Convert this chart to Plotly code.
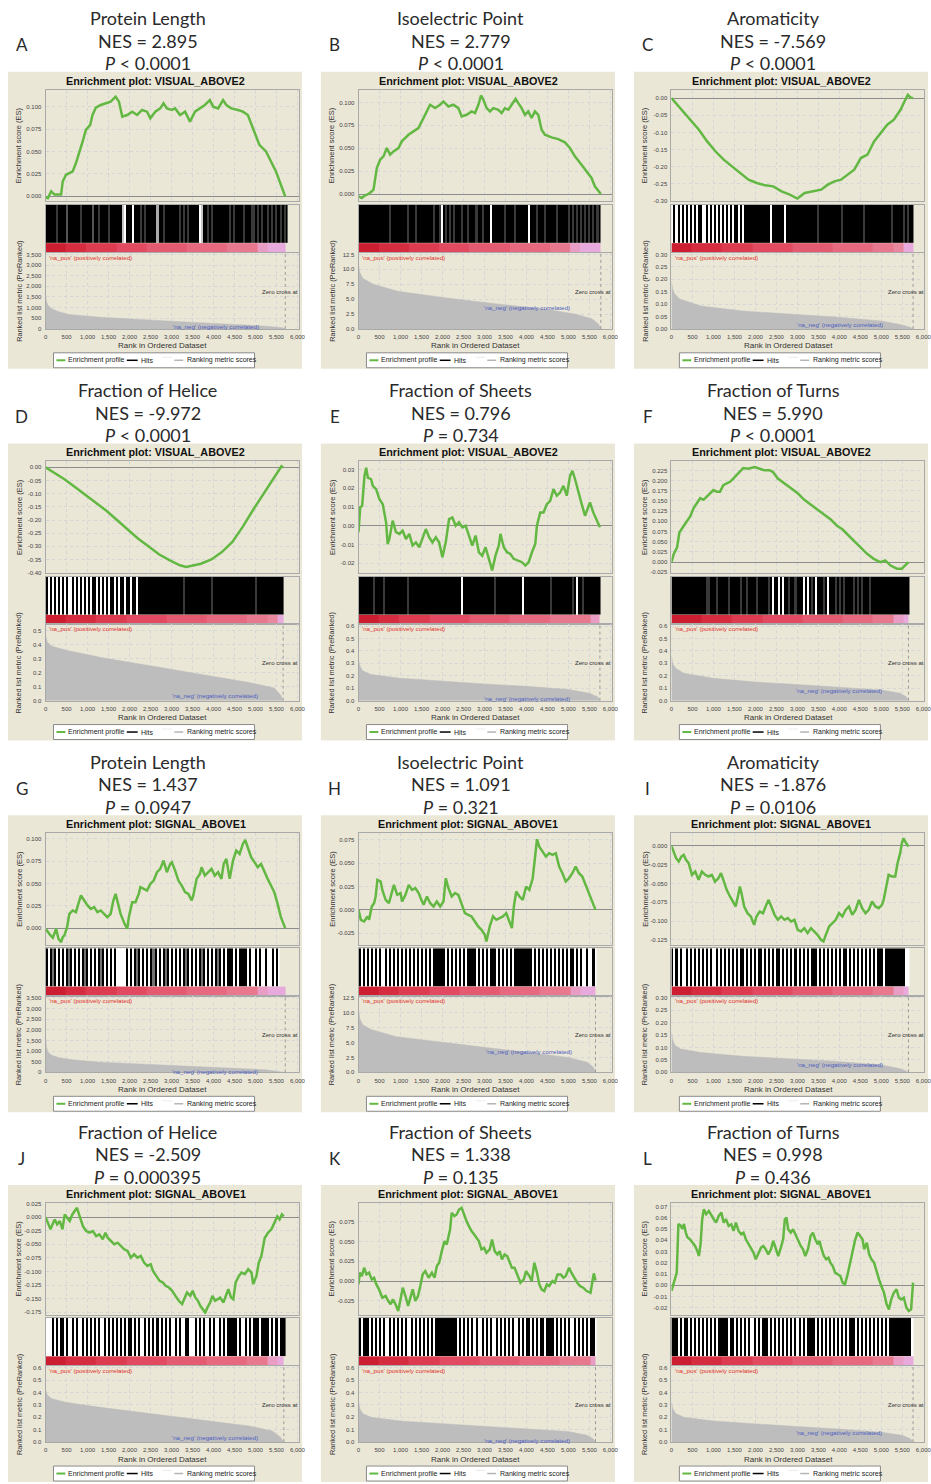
import numpy as np
import plotly.graph_objects as go

W, H = 931, 1484

# ---------------- DATA ----------------
panel_ids = list("ABCDEFGHIJKL")
feature_names = ["Protein Length", "Isoelectric Point", "Aromaticity",
                 "Fraction of Helice", "Fraction of Sheets", "Fraction of Turns"] * 2
nes_values = [2.895, 2.779, -7.569, -9.972, 0.796, 5.990,
              1.437, 1.091, -1.876, -2.509, 1.338, 0.998]
p_signs = ["<", "<", "<", "<", "=", "<", "=", "=", "=", "=", "=", "="]
p_values = ["0.0001", "0.0001", "0.0001", "0.0001", "0.734", "0.0001",
            "0.0947", "0.321", "0.0106", "0.000395", "0.135", "0.436"]
gene_sets = ["VISUAL_ABOVE2"] * 6 + ["SIGNAL_ABOVE1"] * 6
dataset_size = [5709, 5773, 5756, 5660, 5751, 5646, 5709, 5646, 5646, 5677, 5646, 5756]

# running enrichment score (rank, ES)
es_A = [(0,-0.001),(55,-0.002),(134,0.0056),(213,0.0019),(370,0.0019),(409,0.0167),(488,0.0241),(646,0.0279),(724,0.0372),(803,0.0483),(882,0.0613),(961,0.0743),(1063,0.0799),(1118,0.091),(1197,0.0992),(1315,0.1022),(1433,0.104),(1551,0.1059),(1669,0.1115),(1748,0.1059),(1827,0.0892),(1945,0.091),(2063,0.0947),(2181,0.091),(2299,0.0966),(2417,0.0947),(2496,0.0873),(2614,0.0947),(2732,0.0984),(2811,0.104),(2890,0.0984),(3008,0.0966),(3087,0.0984),(3205,0.091),(3323,0.0947),(3441,0.0836),(3559,0.0947),(3677,0.0984),(3795,0.1022),(3913,0.1077),(3992,0.1003),(4110,0.0984),(4228,0.1077),(4307,0.1022),(4425,0.0984),(4583,0.0966),(4701,0.0947),(4819,0.091),(4937,0.0762),(5094,0.0576),(5252,0.0502),(5370,0.039),(5488,0.0279),(5606,0.013),(5709,0.0)]
es_B = [(0,-0.0025),(79,-0.0044),(159,-0.0015),(238,0.0),(317,0.0029),(357,0.0047),(436,0.0284),(515,0.0375),(595,0.0411),(674,0.0502),(753,0.0429),(833,0.0465),(952,0.0502),(1031,0.0575),(1110,0.0611),(1190,0.0647),(1308,0.0684),(1427,0.072),(1507,0.0793),(1586,0.0865),(1705,0.0975),(1824,0.0938),(1943,0.0975),(2022,0.1011),(2141,0.0956),(2260,0.0975),(2379,0.0938),(2458,0.0847),(2577,0.0865),(2696,0.0902),(2776,0.0884),(2855,0.0975),(2918,0.1076),(2974,0.1029),(3053,0.0938),(3132,0.0902),(3212,0.0938),(3331,0.092),(3410,0.0884),(3489,0.0938),(3569,0.092),(3648,0.0975),(3743,0.104),(3806,0.0993),(3886,0.0938),(3965,0.0865),(4044,0.0902),(4124,0.083),(4203,0.0902),(4282,0.0865),(4362,0.0702),(4441,0.0647),(4599,0.0618),(4758,0.06),(4917,0.0564),(5036,0.0502),(5155,0.0411),(5313,0.032),(5432,0.0247),(5551,0.0175),(5630,0.0084),(5694,0.0047),(5773,0.0)]
es_C = [(0,0.0),(102,-0.0146),(260,-0.034),(457,-0.063),(654,-0.0922),(850,-0.1262),(1047,-0.155),(1244,-0.1796),(1441,-0.199),(1638,-0.2184),(1835,-0.2379),(2031,-0.2476),(2228,-0.2544),(2425,-0.2573),(2622,-0.2718),(2819,-0.2816),(3000,-0.293),(3173,-0.2767),(3370,-0.2718),(3567,-0.267),(3724,-0.2524),(3882,-0.2427),(4039,-0.2379),(4197,-0.2233),(4354,-0.2087),(4512,-0.1748),(4669,-0.165),(4827,-0.1262),(4984,-0.1019),(5142,-0.0777),(5299,-0.063),(5457,-0.034),(5551,-0.0097),(5630,0.0097),(5693,0.002),(5756,0.0)]
es_D = [(0,0.0),(100,-0.01),(250,-0.025),(450,-0.045),(700,-0.075),(950,-0.105),(1200,-0.135),(1450,-0.165),(1700,-0.2),(1950,-0.235),(2200,-0.27),(2450,-0.3),(2700,-0.33),(2950,-0.352),(3200,-0.372),(3350,-0.378),(3500,-0.374),(3700,-0.366),(3950,-0.35),(4200,-0.322),(4450,-0.283),(4700,-0.225),(4950,-0.16),(5200,-0.097),(5400,-0.05),(5550,-0.014),(5620,0.004),(5660,0.0)]
es_E = [(0,-0.0035),(40,0.0098),(87,0.0106),(142,0.0266),(182,0.031),(221,0.0257),(300,0.0248),(340,0.0213),(419,0.0195),(498,0.0142),(577,0.0115),(656,0.0018),(695,-0.0098),(735,-0.0071),(814,0.0027),(893,-0.0035),(972,-0.0044),(1051,-0.0027),(1130,-0.0071),(1209,-0.0044),(1288,-0.0106),(1367,-0.0089),(1446,-0.0115),(1525,-0.0071),(1604,-0.0018),(1683,-0.0062),(1762,-0.0089),(1841,-0.0062),(1920,-0.0089),(1999,-0.0168),(2078,-0.0089),(2157,0.0035),(2236,0.0044),(2315,0.0),(2394,0.0018),(2473,-0.0009),(2552,0.0),(2631,-0.0053),(2710,-0.0106),(2789,-0.0053),(2868,-0.0142),(2947,-0.016),(3026,-0.0115),(3105,-0.0177),(3184,-0.0239),(3263,-0.016),(3342,-0.0106),(3381,-0.0044),(3460,-0.0115),(3539,-0.0142),(3618,-0.0151),(3697,-0.0177),(3816,-0.0186),(3895,-0.0195),(3974,-0.0213),(4053,-0.0195),(4132,-0.0142),(4211,-0.0098),(4250,0.0),(4329,0.0071),(4408,0.0071),(4487,0.0115),(4566,0.0133),(4645,0.0195),(4724,0.016),(4803,0.0177),(4882,0.0213),(4961,0.016),(5040,0.0266),(5096,0.0293),(5159,0.0248),(5238,0.0177),(5317,0.0115),(5396,0.0053),(5514,0.0124),(5593,0.0071),(5672,0.0035),(5751,-0.0009)]
es_F = [(0,0.0),(55,0.0201),(134,0.0362),(189,0.0724),(291,0.0884),(370,0.1005),(449,0.1126),(528,0.1326),(606,0.1447),(685,0.1568),(764,0.1528),(843,0.1608),(921,0.1688),(1000,0.1769),(1079,0.1729),(1157,0.1729),(1236,0.1889),(1315,0.193),(1394,0.197),(1472,0.205),(1551,0.2131),(1630,0.2211),(1709,0.2307),(1827,0.2291),(1984,0.2332),(2102,0.2291),(2220,0.2251),(2339,0.2251),(2417,0.2211),(2535,0.205),(2693,0.193),(2850,0.1809),(3008,0.1688),(3165,0.1528),(3323,0.1407),(3480,0.1286),(3638,0.1166),(3795,0.1045),(3953,0.0884),(4071,0.0804),(4189,0.0683),(4346,0.0523),(4504,0.0362),(4661,0.0201),(4819,0.008),(4976,0.0),(5094,0.004),(5213,-0.008),(5370,-0.0161),(5488,-0.0161),(5567,-0.008),(5646,0.0)]
es_G = [(0,-0.0007),(55,-0.0045),(118,-0.0082),(173,-0.0108),(213,-0.0045),(252,-0.0007),(307,-0.0119),(370,-0.0157),(409,-0.0101),(449,-0.0082),(512,0.0011),(567,0.016),(646,0.0198),(724,0.0179),(780,0.0272),(843,0.0366),(921,0.031),(1000,0.0254),(1079,0.0216),(1157,0.0235),(1236,0.0179),(1315,0.0198),(1394,0.016),(1472,0.0123),(1551,0.016),(1614,0.0309),(1669,0.0384),(1724,0.0291),(1787,0.016),(1882,0.0048),(1945,-0.0007),(1984,0.0123),(2063,0.0291),(2142,0.0291),(2220,0.0384),(2260,0.0459),(2339,0.044),(2417,0.0421),(2496,0.0496),(2575,0.0533),(2654,0.0627),(2732,0.0664),(2811,0.0757),(2890,0.0627),(2969,0.072),(3008,0.0739),(3087,0.0645),(3165,0.0533),(3244,0.0477),(3323,0.0403),(3402,0.0384),(3480,0.031),(3520,0.0366),(3598,0.0552),(3677,0.0608),(3717,0.0683),(3795,0.0589),(3874,0.0627),(3953,0.0664),(4032,0.0589),(4110,0.0627),(4189,0.0552),(4244,0.072),(4307,0.0776),(4386,0.0552),(4465,0.0757),(4543,0.0869),(4622,0.0832),(4701,0.0944),(4756,0.0988),(4819,0.0906),(4898,0.0795),(4976,0.0739),(5055,0.0683),(5134,0.072),(5213,0.0627),(5291,0.0552),(5370,0.0477),(5449,0.0403),(5528,0.0272),(5606,0.0123),(5709,0.0)]
es_H = [(0,0.0),(55,-0.0107),(134,-0.0125),(213,-0.0071),(252,-0.0107),(315,0.0036),(370,0.0071),(409,0.0143),(449,0.0321),(528,0.0303),(567,0.0214),(646,0.0107),(724,0.0071),(803,0.0214),(843,0.0268),(921,0.0161),(1000,0.0179),(1039,0.0089),(1118,0.0161),(1197,0.0268),(1276,0.0214),(1354,0.0232),(1433,0.0179),(1496,0.0107),(1551,0.0054),(1630,0.0143),(1709,0.0071),(1787,0.0036),(1866,0.0089),(1945,0.0036),(2024,0.0089),(2079,0.0339),(2142,0.0232),(2220,0.0143),(2299,0.0179),(2378,0.0161),(2457,0.0071),(2535,-0.0036),(2614,-0.0054),(2693,-0.0071),(2772,-0.0125),(2850,-0.0178),(2929,-0.0214),(3008,-0.0268),(3047,-0.0339),(3087,-0.025),(3126,-0.0178),(3205,-0.0071),(3283,-0.0107),(3362,-0.0089),(3441,-0.0071),(3520,-0.0036),(3598,-0.0125),(3654,-0.0196),(3701,0.0036),(3756,0.0196),(3835,0.0143),(3913,0.0107),(3992,0.025),(4071,0.0214),(4150,0.0339),(4205,0.0571),(4252,0.0757),(4307,0.0678),(4386,0.0625),(4465,0.0571),(4543,0.0607),(4622,0.0589),(4701,0.0607),(4780,0.0464),(4858,0.0393),(4937,0.0303),(5016,0.0339),(5094,0.0393),(5173,0.0464),(5252,0.0393),(5331,0.0357),(5409,0.0268),(5488,0.0179),(5567,0.0071),(5646,0.0)]
es_I = [(0,0.0),(55,-0.0097),(110,-0.0164),(173,-0.0208),(236,-0.0142),(291,-0.012),(346,-0.0186),(409,-0.023),(488,-0.0385),(567,-0.0341),(646,-0.0452),(724,-0.0341),(803,-0.0385),(882,-0.0407),(961,-0.0385),(1039,-0.0474),(1118,-0.043),(1181,-0.0363),(1236,-0.0452),(1315,-0.0585),(1394,-0.0673),(1472,-0.074),(1528,-0.0806),(1591,-0.0651),(1630,-0.054),(1669,-0.0629),(1732,-0.0806),(1811,-0.0895),(1890,-0.0939),(1969,-0.105),(2024,-0.0939),(2102,-0.0873),(2181,-0.0895),(2260,-0.0784),(2315,-0.0718),(2378,-0.0806),(2457,-0.0917),(2535,-0.0983),(2614,-0.0939),(2693,-0.0983),(2772,-0.0961),(2850,-0.1006),(2929,-0.0983),(3008,-0.1116),(3087,-0.1138),(3165,-0.1094),(3244,-0.116),(3323,-0.1094),(3402,-0.1138),(3480,-0.1183),(3559,-0.1249),(3622,-0.1271),(3677,-0.1183),(3756,-0.1072),(3835,-0.1028),(3913,-0.0983),(3992,-0.0895),(4071,-0.0939),(4150,-0.0851),(4228,-0.0806),(4307,-0.0917),(4386,-0.0851),(4465,-0.0718),(4543,-0.0829),(4622,-0.0895),(4701,-0.0851),(4780,-0.074),(4858,-0.0806),(4937,-0.0829),(5016,-0.0784),(5055,-0.0718),(5118,-0.0518),(5173,-0.0385),(5252,-0.0407),(5331,-0.0407),(5386,-0.023),(5449,-0.0097),(5488,0.0035),(5528,0.0102),(5591,0.0035),(5646,-0.0009)]
es_J = [(0,0.0),(63,-0.0134),(118,-0.0226),(181,-0.0104),(220,-0.0043),(276,-0.0134),(339,-0.0073),(402,-0.0226),(457,0.0049),(512,-0.0012),(575,-0.0073),(638,0.0049),(693,0.011),(748,0.0171),(811,0.0018),(890,-0.0165),(969,-0.0256),(1047,-0.0287),(1126,-0.0256),(1205,-0.0348),(1283,-0.0317),(1362,-0.0409),(1425,-0.0287),(1480,-0.0378),(1559,-0.0439),(1638,-0.05),(1717,-0.047),(1795,-0.0531),(1874,-0.0592),(1953,-0.0622),(2031,-0.0744),(2110,-0.0683),(2189,-0.0744),(2268,-0.0714),(2346,-0.0836),(2425,-0.0897),(2504,-0.0866),(2559,-0.0988),(2638,-0.108),(2717,-0.1171),(2795,-0.1202),(2858,-0.1263),(2937,-0.1293),(3016,-0.1354),(3094,-0.1446),(3173,-0.1537),(3252,-0.1598),(3315,-0.1476),(3370,-0.1385),(3449,-0.1446),(3504,-0.1354),(3567,-0.1476),(3630,-0.1537),(3685,-0.1628),(3740,-0.169),(3803,-0.1751),(3858,-0.1659),(3921,-0.1568),(3976,-0.1446),(4039,-0.1537),(4102,-0.1507),(4157,-0.1476),(4236,-0.1568),(4315,-0.1415),(4354,-0.1324),(4417,-0.1476),(4472,-0.1507),(4528,-0.1202),(4606,-0.108),(4669,-0.1019),(4748,-0.1049),(4827,-0.0958),(4906,-0.1019),(4945,-0.1232),(5024,-0.108),(5079,-0.0836),(5142,-0.0714),(5220,-0.0384),(5299,-0.0287),(5378,-0.0226),(5457,-0.0104),(5520,0.0012),(5575,-0.0043),(5630,0.0049),(5677,0.0012)]
es_K = [(0,-0.0042),(31,0.0105),(79,0.0063),(134,0.0168),(189,0.0084),(252,0.0105),(315,0.0021),(370,0.0042),(425,-0.0042),(488,-0.0105),(567,-0.021),(646,-0.0189),(709,-0.0252),(764,-0.0294),(819,-0.0231),(882,-0.0294),(945,-0.0378),(1000,-0.0252),(1055,-0.0084),(1118,-0.0189),(1181,-0.0315),(1236,-0.021),(1291,-0.0105),(1354,-0.0252),(1417,-0.0189),(1472,-0.0063),(1528,0.0084),(1591,0.0126),(1669,0.0042),(1748,0.0105),(1811,0.0042),(1866,0.0189),(1921,0.0231),(1984,0.0378),(2047,0.0504),(2102,0.0462),(2181,0.0651),(2220,0.0861),(2283,0.0819),(2339,0.084),(2394,0.0903),(2457,0.0924),(2520,0.0819),(2575,0.0756),(2630,0.0693),(2693,0.063),(2756,0.0588),(2811,0.0546),(2866,0.0504),(2929,0.0399),(2992,0.042),(3047,0.0357),(3126,0.0399),(3181,0.0525),(3244,0.0378),(3307,0.0336),(3362,0.0378),(3417,0.0273),(3480,0.0336),(3543,0.0315),(3598,0.0231),(3654,0.0168),(3717,0.0168),(3780,0.0084),(3858,-0.0021),(3937,0.0021),(3992,0.0126),(4071,0.0063),(4126,0.0),(4189,0.0231),(4252,0.0105),(4307,-0.0042),(4362,-0.0105),(4425,-0.0126),(4488,-0.0042),(4543,-0.0063),(4622,0.0),(4677,-0.0021),(4740,0.0084),(4819,0.0084),(4882,0.0042),(4937,0.0063),(5016,0.0168),(5071,0.0105),(5134,0.0042),(5213,-0.0021),(5276,-0.0063),(5354,-0.0084),(5433,-0.0126),(5528,-0.0147),(5567,-0.0021),(5606,0.0097),(5646,0.0008)]
es_L = [(0,-0.005),(39,-0.0006),(87,0.0053),(126,0.0113),(165,0.0546),(220,0.0531),(260,0.0502),(299,0.0546),(339,0.0472),(378,0.0428),(433,0.0413),(496,0.0383),(559,0.0353),(614,0.0309),(654,0.0261),(693,0.0365),(732,0.0588),(772,0.0677),(827,0.0633),(890,0.0662),(953,0.0618),(1008,0.0588),(1063,0.0558),(1126,0.0618),(1189,0.0647),(1244,0.0558),(1299,0.0588),(1362,0.0529),(1425,0.0543),(1480,0.0484),(1535,0.0558),(1598,0.0484),(1661,0.0454),(1717,0.0469),(1772,0.041),(1835,0.0365),(1898,0.0321),(1953,0.0291),(2008,0.0232),(2071,0.0291),(2134,0.0335),(2189,0.035),(2244,0.0321),(2307,0.0276),(2370,0.0321),(2425,0.0395),(2480,0.0321),(2543,0.0261),(2606,0.0335),(2661,0.041),(2701,0.0588),(2740,0.0603),(2780,0.0499),(2843,0.0469),(2898,0.0499),(2953,0.0454),(3016,0.0395),(3079,0.035),(3134,0.0321),(3189,0.0261),(3252,0.0321),(3315,0.0439),(3370,0.0469),(3425,0.041),(3488,0.0365),(3528,0.0395),(3567,0.0335),(3630,0.0261),(3685,0.0232),(3740,0.0246),(3787,0.0202),(3843,0.0172),(3898,0.0113),(3961,0.0098),(4024,0.0083),(4079,0.0024),(4134,0.0009),(4197,0.0098),(4260,0.0202),(4315,0.0305),(4370,0.0395),(4433,0.0469),(4496,0.0439),(4551,0.041),(4591,0.0321),(4654,0.038),(4709,0.0276),(4764,0.0232),(4827,0.0202),(4890,0.0113),(4945,0.0053),(5000,-0.0006),(5063,-0.0065),(5126,-0.0169),(5181,-0.0214),(5236,-0.0125),(5299,-0.0065),(5362,-0.0036),(5417,-0.011),(5472,-0.0125),(5535,-0.011),(5598,-0.0199),(5654,-0.0229),(5709,-0.0214),(5756,0.0024)]

# hit density per 48-rank bin (0 = no hit ... 9 = solid black)
hits_A = "9999979" "999699" "999979" "999969" "979999" "799999" "920999" "099979" "799999" "399799" "999997" "979799" "999029" "979799" "999999" "797999" "979997" "797979" "979797" "97979"
hits_B = "9999999999" "9999979999" "9999799979" "9999999799" "7097979799" "9799799979" "9799909999" "9979999799" "9999099979" "9979999979" "9999797979" "7979797979"
hits_C = "0909090909" "0909900909" "0909090909" "0990909999" "9999999990" "9999990999" "9999999999" "9979999999" "9999799999" "9999979999" "9999999997" "9999979799"
hits_D = "9090909090" "9009090909" "0909909090" "9099090990" "9909909999" "9999999999" "9999999979" "9999999999" "9979999999" "9999999999" "9999799999" "99999999"
hits_E = "9999999799" "9979999999" "9999799999" "9999999999" "9999999999" "9099999999" "9999999799" "9999999999" "9099999999" "9999979999" "9999997909" "9799999999"
hits_F = "9999999999999999" "97799979999979" "9999799799" "9979999979" "0990909979" "9799909097" "9099979099" "9797979999" "7979799979" "9999999999" "99999999"
hits_G = "9095909090" "9590909095" "9090909590" "909090" "0000" "9090959090" "9095909095" "9090909095" "9090909590" "9090959090" "9990909999" "0900909009" "009090"
hits_H = "90909090909" "0090" "9090909090909090909090999" "99909" "0909090909" "99909" "0909099909" "0909090999" "9999990909" "0909090909" "0909099090" "90090090"
hits_I = "9090900909" "0909090909" "0090909090" "9090990909" "0909909090" "9099090909" "0909090909" "9909090909" "0909099090" "9090909090" "9099909999" "99999900"
hits_J = "000" "9090990" "9009090090" "9090909009" "0909090909" "0990909009" "0909090909" "0900909009" "9000909090" "0909009090" "9999909009" "0909990999" "909090999"
hits_K = "9099909090" "9090090909" "0909009090" "9090909099" "9999999990" "9090909090" "0909090090" "9090909009" "0909909090" "9909999090" "9090900909" "09090990"
hits_L = "9990909909" "0909090909" "0909999909" "9090909090" "0909099909" "0909090909" "0909090999" "9090909090" "9090909099" "9090909090" "9090909099" "9999999990"

# colour-bar level per 240-rank segment (9 = deep red ... 0 = light pink)
cbar_A = "998877766655554444333100"
cbar_B = "998887776665555444433100"
cbar_C = "998887776666555544443320"
cbar_D = "998887776666555544443320"
cbar_E = "998877766665555444433331"
cbar_F = "999888777666655554443310"
cbar_G = "998877766655554444333100"
cbar_H = "998877766655554444333100"
cbar_I = "998887776666555544443310"
cbar_J = "998887776666555544443310"
cbar_K = "998887776666555544443331"
cbar_L = "998887776666555544443310"

# ranked list metric (rank, value)
metric_A = [(0,1600),(20,1300),(60,1100),(150,950),(300,820),(550,680),(1300,550),(2100,450),(2900,370),(3700,290),(4500,210),(5250,130),(5650,50),(5709,0)]
metric_B = [(0,10.8),(30,9.5),(100,8.5),(350,7.5),(940,6.3),(2100,5.2),(3300,4.2),(4470,3.3),(5150,2.5),(5560,1.7),(5720,0.8),(5773,0)]
metric_C = [(0,0.19),(30,0.16),(80,0.14),(200,0.12),(700,0.092),(1700,0.072),(2800,0.06),(3900,0.048),(5000,0.032),(5500,0.016),(5700,0.006),(5756,0)]
metric_D = [(0,0.47),(40,0.42),(150,0.39),(500,0.36),(1300,0.31),(2500,0.25),(3700,0.19),(4850,0.13),(5450,0.09),(5600,0.04),(5660,0)]
metric_E = [(0,0.34),(30,0.28),(100,0.24),(300,0.21),(1000,0.18),(2000,0.155),(3000,0.135),(4000,0.115),(5000,0.09),(5500,0.06),(5700,0.03),(5751,0)]
metric_F = [(0,0.36),(30,0.30),(100,0.26),(300,0.22),(1000,0.18),(2000,0.15),(3000,0.13),(4000,0.11),(5000,0.085),(5450,0.06),(5600,0.03),(5646,0)]
metric_G = [(0,1650),(20,1200),(60,950),(150,800),(300,700),(600,600),(1300,480),(2100,400),(2900,330),(3700,260),(4500,190),(5250,120),(5650,40),(5709,0)]
metric_H = [(0,10.7),(30,9.0),(100,8.0),(300,7.2),(900,6.0),(2000,5.0),(3000,4.2),(4000,3.4),(5000,2.5),(5450,1.7),(5600,0.8),(5646,0)]
metric_I = [(0,0.16),(30,0.13),(80,0.11),(200,0.095),(700,0.08),(1700,0.065),(2800,0.055),(3900,0.045),(5000,0.03),(5450,0.015),(5600,0.005),(5646,0)]
metric_J = [(0,0.42),(40,0.38),(150,0.35),(500,0.32),(1300,0.28),(2500,0.23),(3700,0.18),(4850,0.13),(5400,0.09),(5600,0.04),(5677,0)]
metric_K = [(0,0.33),(30,0.27),(100,0.23),(300,0.20),(1000,0.17),(2000,0.15),(3000,0.13),(4000,0.11),(5000,0.085),(5450,0.055),(5600,0.025),(5646,0)]
metric_L = [(0,0.32),(30,0.27),(100,0.23),(300,0.20),(1000,0.17),(2000,0.145),(3000,0.125),(4000,0.105),(5000,0.08),(5500,0.055),(5700,0.025),(5756,0)]

es_data = [es_A, es_B, es_C, es_D, es_E, es_F, es_G, es_H, es_I, es_J, es_K, es_L]
hits_data = [hits_A, hits_B, hits_C, hits_D, hits_E, hits_F, hits_G, hits_H, hits_I, hits_J, hits_K, hits_L]
cbar_data = [cbar_A, cbar_B, cbar_C, cbar_D, cbar_E, cbar_F, cbar_G, cbar_H, cbar_I, cbar_J, cbar_K, cbar_L]
metric_data = [metric_A, metric_B, metric_C, metric_D, metric_E, metric_F, metric_G, metric_H, metric_I, metric_J, metric_K, metric_L]

# ---------------- AXIS SETTINGS ----------------
es_range = [(-0.0056, 0.1193), (-0.008, 0.1139), (-0.301, 0.0245), (-0.4015, 0.0224),
            (-0.0253, 0.0343), (-0.027, 0.247), (-0.0187, 0.1064), (-0.0375, 0.0822),
            (-0.1316, 0.0169), (-0.179, 0.026), (-0.0423, 0.0986), (-0.026, 0.0733)]
es_tick = [(0, 0.1, 0.025, ".3f"), (0, 0.1, 0.025, ".3f"), (-0.30, 0, 0.05, ".2f"), (-0.40, 0, 0.05, ".2f"),
           (-0.02, 0.03, 0.01, ".2f"), (-0.025, 0.225, 0.025, ".3f"), (0, 0.1, 0.025, ".3f"), (-0.025, 0.075, 0.025, ".3f"),
           (-0.125, 0, 0.025, ".3f"), (-0.175, 0.025, 0.025, ".3f"), (-0.025, 0.075, 0.025, ".3f"), (-0.02, 0.07, 0.01, ".2f")]
met_tick = [(3500, 500, ",.0f"), (12.5, 2.5, ".1f"), (0.30, 0.05, ".2f"), (0.5, 0.1, ".1f"),
            (0.6, 0.1, ".1f"), (0.6, 0.1, ".1f"), (3500, 500, ",.0f"), (12.5, 2.5, ".1f"),
            (0.30, 0.05, ".2f"), (0.6, 0.1, ".1f"), (0.6, 0.1, ".1f"), (0.6, 0.1, ".1f")]
met_top = [3585, 12.8, 0.307, 0.546, 0.614, 0.614, 3585, 12.8, 0.307, 0.614, 0.614, 0.614]
neg_pos = [(165, 256), (163, 237), (163, 254), (164, 253), (163, 256), (162, 248),
           (164, 257), (165, 237), (163, 250), (164, 253), (163, 256), (162, 248)]

# ---------------- GEOMETRY (pixels) ----------------
COL_X = [6, 322, 638]
ROW_Y = [70, 443, 816, 1187]
BOX_W, BOX_H = 297, 298
PL, PR = 38, 294
ES_T, ES_B = 18, 130
HT_T, HT_B = 133.5, 181
MT_T, MT_B = 181.5, 258
XMAX = 6040
HIT_BIN, CB_BIN = 48, 240

GREEN = "#62b842"
GRID = "#d6d6d6"
SMALL = "Liberation Sans, Arial, sans-serif"
BIG = "Lato, Open Sans, sans-serif"
TXT = "#3a3a3a"

HIT_SCALE = [[0, "#ffffff"], [1, "#000000"]]
CB_SCALE = [[0, "#e8aadc"], [0.11, "#e99cc4"], [0.22, "#e9879f"], [0.33, "#e8788e"], [0.44, "#e66a80"],
            [0.56, "#e45a70"], [0.67, "#e14a60"], [0.78, "#dc3b50"], [0.89, "#d52c40"], [1, "#cc1e30"]]


def fx(px):
    return px / W


def fy(py):
    return 1 - py / H


def ticks(lo, hi, step, f):
    n = int(round((hi - lo) / step))
    vals = [round(lo + k * step, 6) + 0.0 for k in range(n + 1)]
    return vals, [format(v, f) for v in vals]


fig = go.Figure()
layout = dict(width=W, height=H, margin=dict(l=0, r=0, t=0, b=0),
              paper_bgcolor="white", plot_bgcolor="white", showlegend=False)
shapes, annos = [], []
axn = [0]


def new_axes(xdom, ydom, xr, yr, xcfg, ycfg):
    axn[0] += 1
    n = axn[0]
    xn = "x" if n == 1 else f"x{n}"
    yn = "y" if n == 1 else f"y{n}"
    layout["xaxis" if n == 1 else f"xaxis{n}"] = dict(domain=xdom, range=xr, anchor=yn, **xcfg)
    layout["yaxis" if n == 1 else f"yaxis{n}"] = dict(domain=ydom, range=yr, anchor=xn, **ycfg)
    return xn, yn


def base():
    return dict(showline=True, mirror=True, linecolor="#a9a9a9", linewidth=1, zeroline=False,
                fixedrange=True, showgrid=False, ticks="",
                tickfont=dict(family=SMALL, size=6, color="#444"))


def text(x, y, s, size, family=SMALL, color=TXT, xanchor="center", angle=0, bold=False):
    annos.append(dict(x=fx(x), y=fy(y), xref="paper", yref="paper", text=(f"<b>{s}</b>" if bold else s),
                      showarrow=False, xanchor=xanchor, yanchor="middle", textangle=angle,
                      font=dict(family=family, size=size, color=color)))


for i, pid in enumerate(panel_ids):
    col, row = i % 3, i // 3
    ox, oy = COL_X[col], ROW_Y[row]
    N = dataset_size[i]

    # beige frame
    shapes.append(dict(type="rect", xref="paper", yref="paper", x0=fx(ox), x1=fx(ox + BOX_W),
                       y0=fy(oy + BOX_H), y1=fy(oy), fillcolor="#ebe7d7", line=dict(width=0), layer="below"))

    # headers
    cx = ox + 141
    text(cx, oy - 53.5, feature_names[i], 18, BIG, "#2a2a2a")
    text(cx, oy - 31, f"NES = {nes_values[i]:.3f}", 18, BIG, "#2a2a2a")
    text(cx, oy - 8.5, f"<i>P</i> {'&lt;' if p_signs[i] == '<' else '='} {p_values[i]}", 18, BIG, "#2a2a2a")
    text(ox + 14, oy - 27, pid, 17, BIG, "#2a2a2a")
    text(ox + 149, oy + 9, f"Enrichment plot: {gene_sets[i]}", 10.8, SMALL, "#111", bold=True)

    L, R = ox + PL, ox + PR
    Rc = min(R, W)
    xr = [0, XMAX * (Rc - L) / (R - L)]
    xdom = [fx(L), fx(Rc)]

    # --- ES plot
    ylo, yhi = es_range[i]
    tv, tt = ticks(*es_tick[i])
    xc = base(); xc.update(showgrid=True, gridcolor=GRID, griddash="dot", tick0=0, dtick=500, showticklabels=False)
    yc = base(); yc.update(showgrid=True, gridcolor=GRID, griddash="dot", tickvals=tv, ticktext=tt,
                           zeroline=True, zerolinecolor="#8c8c8c", zerolinewidth=1,
                           ticks="outside", ticklen=2, tickcolor="rgba(0,0,0,0)")
    xa, ya = new_axes(xdom, [fy(oy + ES_B), fy(oy + ES_T)], xr, [ylo, yhi], xc, yc)
    er = [p[0] for p in es_data[i]]
    ev = [p[1] for p in es_data[i]]
    fig.add_trace(go.Scatter(x=er, y=ev, mode="lines", line=dict(color=GREEN, width=2.5),
                             xaxis=xa, yaxis=ya, hoverinfo="skip"))

    # --- hits + colour bar
    xc = base(); xc.update(showticklabels=False)
    yc = base(); yc.update(showticklabels=False)
    xa, ya = new_axes(xdom, [fy(oy + HT_B), fy(oy + HT_T)], xr, [0, 1], xc, yc)
    hl = [int(c) for c in hits_data[i]]
    hedges = [k * HIT_BIN for k in range(len(hl) + 1)]
    fig.add_trace(go.Heatmap(x=hedges, y=[0.19, 1.0], z=[hl], colorscale=HIT_SCALE, zmin=0, zmax=9,
                             showscale=False, hoverinfo="skip", xaxis=xa, yaxis=ya))
    cl = [int(c) for c in cbar_data[i]]
    cedges = [min(k * CB_BIN, N) for k in range(len(cl) + 1)]
    fig.add_trace(go.Heatmap(x=cedges, y=[0.0, 0.19], z=[cl], colorscale=CB_SCALE, zmin=0, zmax=9,
                             showscale=False, hoverinfo="skip", xaxis=xa, yaxis=ya))

    # --- ranked list metric
    top, step, f = met_tick[i]
    tv, tt = ticks(0, top, step, f)
    xc = base(); xc.update(showgrid=True, gridcolor=GRID, griddash="dot", tick0=0, dtick=500, tickformat=",",
                           ticks="outside", ticklen=2, tickcolor="rgba(0,0,0,0)", ticklabeloverflow="allow")
    yc = base(); yc.update(showgrid=True, gridcolor=GRID, griddash="dot", tickvals=tv, ticktext=tt,
                           ticks="outside", ticklen=2, tickcolor="rgba(0,0,0,0)")
    xa, ya = new_axes(xdom, [fy(oy + MT_B), fy(oy + MT_T)], xr, [0, met_top[i]], xc, yc)
    mr = [p[0] for p in metric_data[i]]
    mv = [p[1] for p in metric_data[i]]
    fig.add_trace(go.Scatter(x=mr, y=mv, mode="lines", fill="tozeroy", fillcolor="#bdbdbd",
                             line=dict(color="#bdbdbd", width=0.5), xaxis=xa, yaxis=ya, hoverinfo="skip"))
    shapes.append(dict(type="line", xref=xa, yref=f"{ya} domain", x0=N, x1=N, y0=0, y1=1,
                       line=dict(color="#9a9a9a", width=1, dash="dot")))

    text(ox + PL + 1.5, oy + 186, "'na_pos' (positively correlated)", 6.2, SMALL, "#e0302a", xanchor="left")
    nx, ny = neg_pos[i]
    text(ox + nx, oy + ny, "'na_neg' (negatively correlated)", 6.2, SMALL, "#5060c0", xanchor="left")
    text(ox + 255, oy + 220, "Zero cross at", 6.1, SMALL, "#333", xanchor="left")

    # axis titles
    text(ox + 11, oy + 74, "Enrichment score (ES)", 7.5, SMALL, "#333", angle=-90)
    text(ox + 11, oy + 220, "Ranked list metric (PreRanked)", 7.3, SMALL, "#333", angle=-90)
    text(ox + 156, oy + 275, "Rank in Ordered Dataset", 8, SMALL, "#333")

    # legend
    lx0, lx1, ly0, ly1 = ox + 46, ox + 249, oy + 282, oy + 297
    ly = (ly0 + ly1) / 2
    shapes.append(dict(type="rect", xref="paper", yref="paper", x0=fx(lx0), x1=fx(lx1), y0=fy(ly1), y1=fy(ly0),
                       fillcolor="white", line=dict(color="#8a8a8a", width=1)))
    shapes.append(dict(type="line", xref="paper", yref="paper", x0=fx(ox + 49), x1=fx(ox + 58), y0=fy(ly), y1=fy(ly),
                       line=dict(color=GREEN, width=2)))
    shapes.append(dict(type="line", xref="paper", yref="paper", x0=fx(ox + 120), x1=fx(ox + 131), y0=fy(ly), y1=fy(ly),
                       line=dict(color="#000", width=1.5)))
    shapes.append(dict(type="line", xref="paper", yref="paper", x0=fx(ox + 156), x1=fx(ox + 166), y0=fy(ly - 3), y1=fy(ly - 3),
                       line=dict(color="#ececec", width=1)))
    shapes.append(dict(type="line", xref="paper", yref="paper", x0=fx(ox + 168), x1=fx(ox + 177), y0=fy(ly), y1=fy(ly),
                       line=dict(color="#b5b5b5", width=1.5)))
    text(ox + 59, ly, "Enrichment profile", 7, SMALL, "#222", xanchor="left")
    text(ox + 132, ly, "Hits", 7, SMALL, "#222", xanchor="left")
    text(ox + 179, ly, "Ranking metric scores", 7, SMALL, "#222", xanchor="left")

layout["shapes"] = shapes
layout["annotations"] = annos
fig.update_layout(**layout)
fig.write_html("out.html", config={"displayModeBar": False},
               post_script="document.body.style.margin='0';document.body.style.overflow='hidden';")
